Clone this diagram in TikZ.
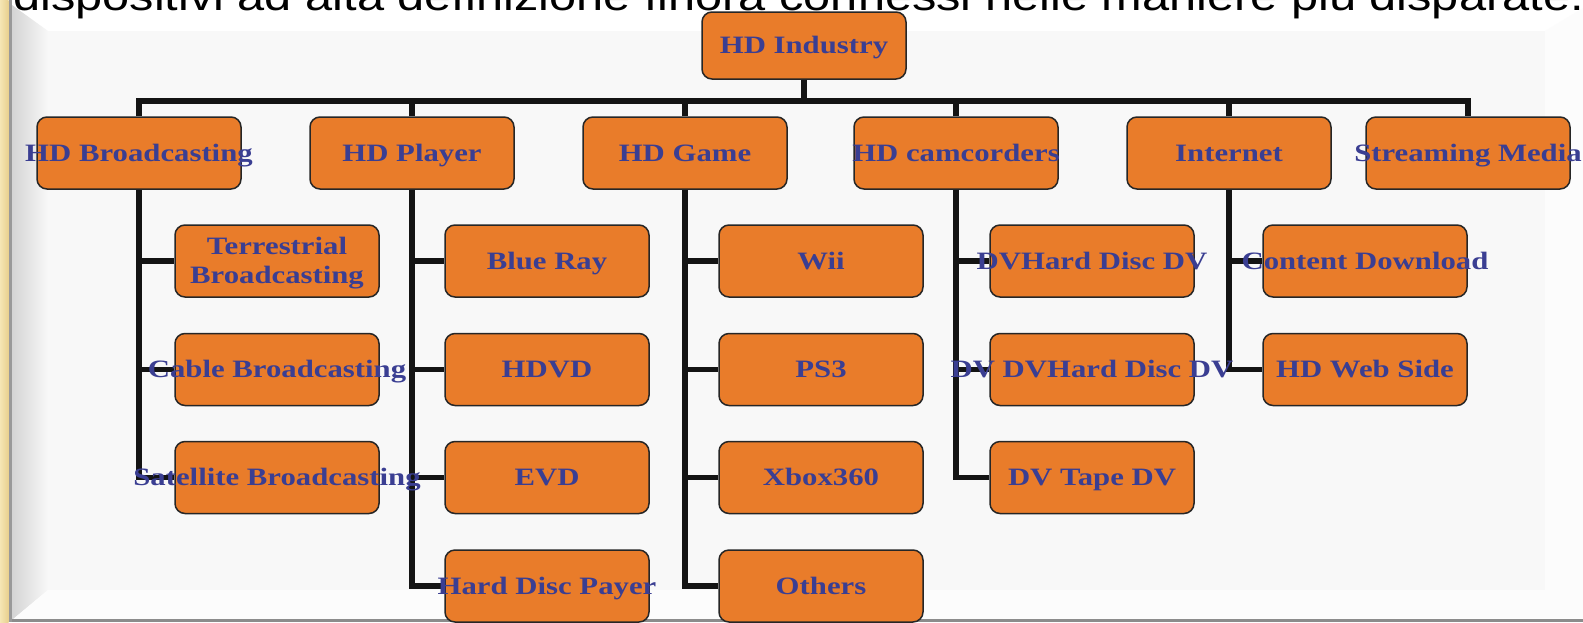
\documentclass[tikz,border=0pt]{standalone}
\usepackage{fontspec}
\newfontfamily\boxfont[FakeStretch=1.23]{Liberation Serif}
\newfontfamily\topfont[FakeStretch=1.2]{Liberation Sans}
\definecolor{boxorange}{HTML}{E97C2A}
\definecolor{boxline}{HTML}{262626}
\definecolor{txtblue}{HTML}{3A3E92}
\definecolor{panel}{HTML}{F8F8F8}
\definecolor{parch}{HTML}{F5E6B4}
\definecolor{parchdark}{HTML}{E8D08E}
\tikzset{
  box/.style={draw=boxline, line width=1.5pt, fill=boxorange, rounded corners=10pt,
    minimum width=204pt, minimum height=72pt, inner sep=0pt},
  topbox/.style={box, minimum height=67pt},
  lbl/.style={text=txtblue, font=\boxfont\bfseries\fontsize{25}{29}\selectfont,
    inner sep=0pt, text height=16.5pt, text depth=0pt},
  conn/.style={line width=5.5pt, draw=black!92},
  titletext/.style={anchor=base west, inner sep=0pt, text=black,
    font=\topfont\fontsize{40.6}{48}\selectfont}
}
\begin{document}
\begin{tikzpicture}[x=1pt,y=-1pt]
\useasboundingbox (0,0) rectangle (1583,622);
% ---- background frame
\fill[white] (0,0) rectangle (1583,622);
\fill[panel] (48,31) rectangle (1545,590);
\shade[left color=black!17, right color=panel] (12,5) -- (48,31) -- (48,590) -- (12,620) -- cycle;
\fill[black!1] (12,620) -- (48,590) -- (1545,590) -- (1583,618) -- cycle;
\fill[black!1] (1545,31) -- (1583,8) -- (1583,618) -- (1545,590) -- cycle;
\fill[black!45] (12,618.5) rectangle (1583,622);
\shade[left color=parch, right color=parchdark] (0,0) rectangle (8.5,622);
\fill[black!40] (8.5,0) rectangle (12,622);
% ---- title line (cut off at the top, as in the slide)
\node[titletext] (title) at (13,10.5) {dispositivi ad alta definizione finora connessi nelle maniere più disparate.};
% ---- boxes
\node[topbox] (ind) at (804,45.5) {};
\node[box] (hdb) at (139,153) {};
\node[box] (hdp) at (412,153) {};
\node[box] (hdg) at (685,153) {};
\node[box] (hdc) at (956,153) {};
\node[box] (inet) at (1229,153) {};
\node[box] (strm) at (1468,153) {};
\node[box] (b1) at (277,261) {};
\node[box] (b2) at (277,369.5) {};
\node[box] (b3) at (277,477.5) {};
\node[box] (p1) at (547,261) {};
\node[box] (p2) at (547,369.5) {};
\node[box] (p3) at (547,477.5) {};
\node[box] (p4) at (547,586) {};
\node[box] (g1) at (821,261) {};
\node[box] (g2) at (821,369.5) {};
\node[box] (g3) at (821,477.5) {};
\node[box] (g4) at (821,586) {};
\node[box] (c1) at (1092,261) {};
\node[box] (c2) at (1092,369.5) {};
\node[box] (c3) at (1092,477.5) {};
\node[box] (i1) at (1365,261) {};
\node[box] (i2) at (1365,369.5) {};
% ---- connectors
\coordinate (bus) at (804,101);
\draw[conn] (ind.south) -- (ind.south |- bus);
\draw[conn] (hdb.north) |- (bus -| strm.north) -- (strm.north);
\foreach \n in {hdp,hdg,hdc,inet} \draw[conn] (\n.north) -- (\n.north |- bus);
\draw[conn] (hdb.south) |- (b3.west);
\foreach \c in {b1,b2} \draw[conn] (hdb.south |- \c.west) -- (\c.west);
\draw[conn] (hdp.south) |- (p4.west);
\foreach \c in {p1,p2,p3} \draw[conn] (hdp.south |- \c.west) -- (\c.west);
\draw[conn] (hdg.south) |- (g4.west);
\foreach \c in {g1,g2,g3} \draw[conn] (hdg.south |- \c.west) -- (\c.west);
\draw[conn] (hdc.south) |- (c3.west);
\foreach \c in {c1,c2} \draw[conn] (hdc.south |- \c.west) -- (\c.west);
\draw[conn] (inet.south) |- (i2.west);
\draw[conn] (inet.south |- i1.west) -- (i1.west);
% ---- labels
\node[lbl] at (ind) {HD Industry};
\node[lbl] at (hdb) {HD Broadcasting};
\node[lbl] at (hdp) {HD Player};
\node[lbl] at (hdg) {HD Game};
\node[lbl] at (hdc) {HD camcorders};
\node[lbl] at (inet) {Internet};
\node[lbl] at (strm) {Streaming Media};
\node[lbl, text depth=29pt] at (b1) {\begin{tabular}[t]{@{}c@{}}Terrestrial\\Broadcasting\end{tabular}};
\node[lbl] at (b2) {Cable Broadcasting};
\node[lbl] at (b3) {Satellite Broadcasting};
\node[lbl] at (p1) {Blue Ray};
\node[lbl] at (p2) {HDVD};
\node[lbl] at (p3) {EVD};
\node[lbl] at (p4) {Hard Disc Payer};
\node[lbl] at (g1) {Wii};
\node[lbl] at (g2) {PS3};
\node[lbl] at (g3) {Xbox360};
\node[lbl] at (g4) {Others};
\node[lbl] at (c1) {DVHard Disc DV};
\node[lbl] at (c2) {DV DVHard Disc DV};
\node[lbl] at (c3) {DV Tape DV};
\node[lbl] at (i1) {Content Download};
\node[lbl] at (i2) {HD Web Side};
\end{tikzpicture}
\end{document}
